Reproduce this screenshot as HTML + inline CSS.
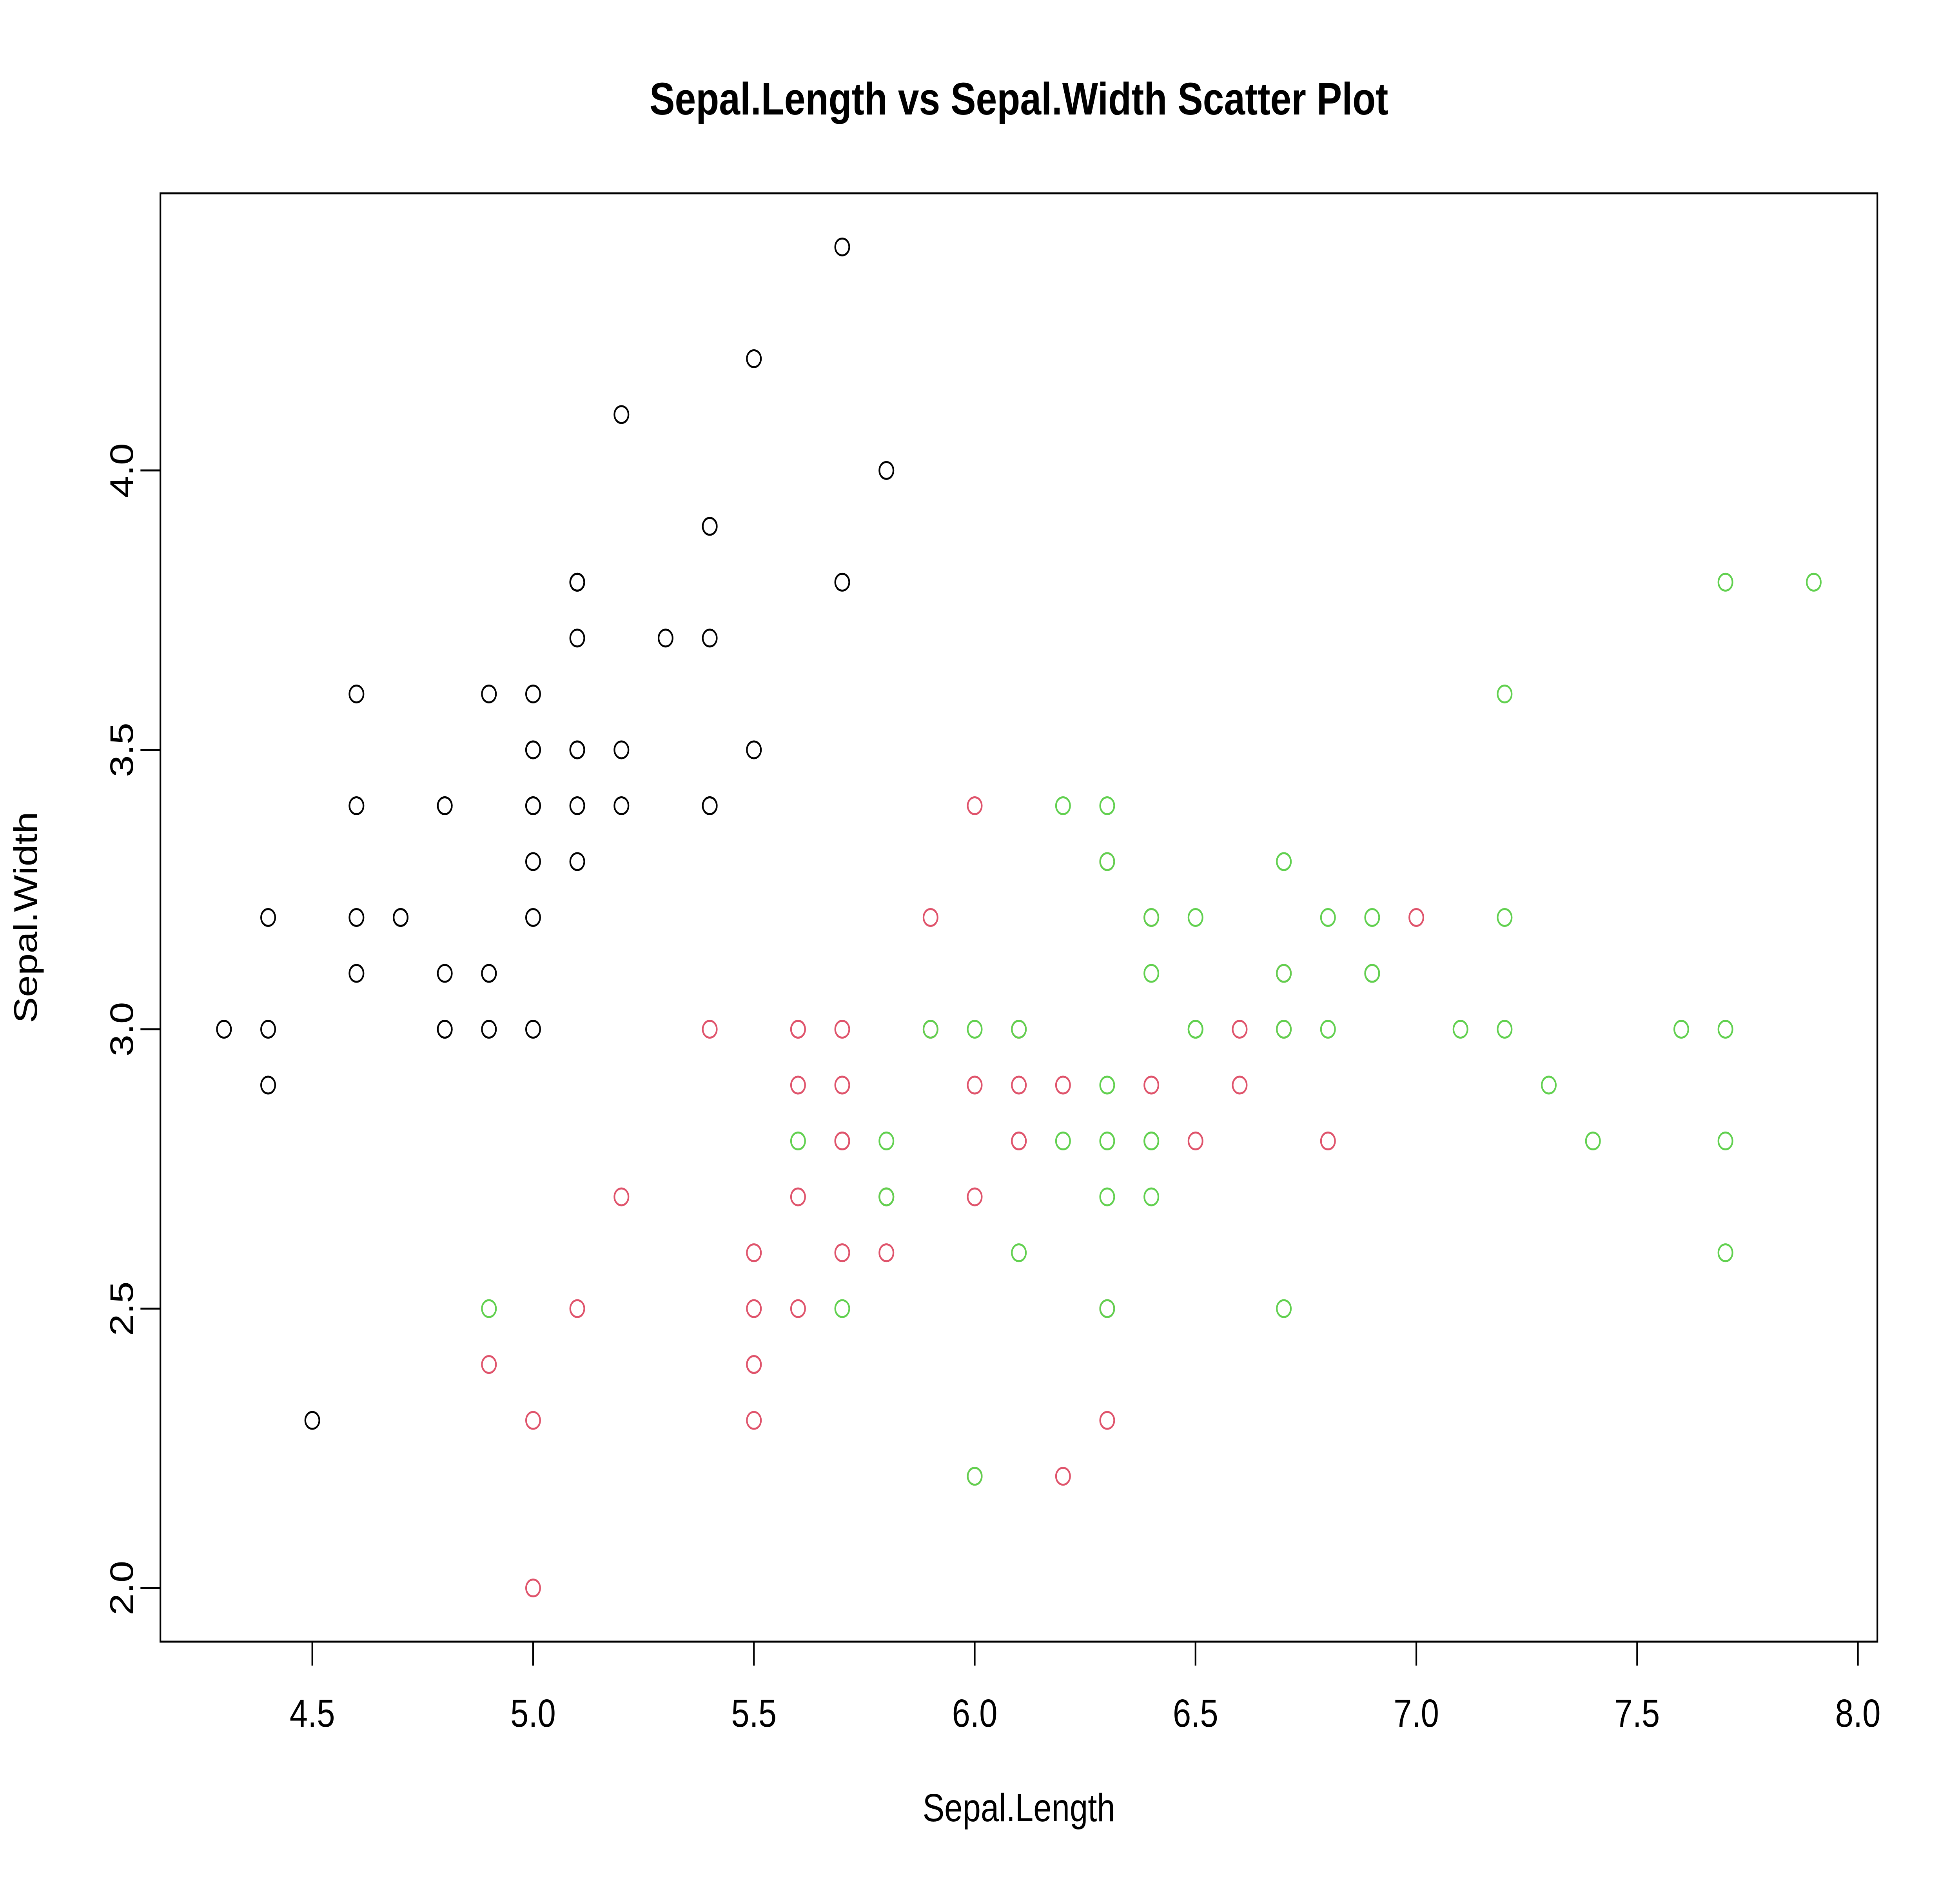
<!DOCTYPE html>
<html><head><meta charset="utf-8"><style>
html,body{margin:0;padding:0;background:#fff;overflow:hidden;}
svg{display:block;width:100vw;height:100vh;}
svg text{font-family:"Liberation Sans",Arial,sans-serif;fill:#000;}
</style></head><body>
<svg id="chart" viewBox="0 0 6000 4800" preserveAspectRatio="none" xmlns="http://www.w3.org/2000/svg">
<rect width="6000" height="4800" fill="#fff"/>
<text x="3119" y="292" font-size="116" font-weight="bold" text-anchor="middle">Sepal.Length vs Sepal.Width Scatter Plot</text>
<text x="3119" y="4645" font-size="100" text-anchor="middle">Sepal.Length</text>
<text x="0" y="0" font-size="100" text-anchor="middle" transform="translate(113,2340) rotate(-90)">Sepal.Width</text>
<g id="axes"></g>
<g id="points"></g>
</svg>
<script>
const setosaX=[5.1,4.9,4.7,4.6,5.0,5.4,4.6,5.0,4.4,4.9,5.4,4.8,4.8,4.3,5.8,5.7,5.4,5.1,5.7,5.1,5.4,5.1,4.6,5.1,4.8,5.0,5.0,5.2,5.2,4.7,4.8,5.4,5.2,5.5,4.9,5.0,5.5,4.9,4.4,5.1,5.0,4.5,4.4,5.0,5.1,4.8,5.1,4.6,5.3,5.0];
const setosaY=[3.5,3.0,3.2,3.1,3.6,3.9,3.4,3.4,2.9,3.1,3.7,3.4,3.0,3.0,4.0,4.4,3.9,3.5,3.8,3.8,3.4,3.7,3.6,3.3,3.4,3.0,3.4,3.5,3.4,3.2,3.1,3.4,4.1,4.2,3.1,3.2,3.5,3.6,3.0,3.4,3.5,2.3,3.2,3.5,3.8,3.0,3.8,3.2,3.7,3.3];
const versicolorX=[7.0,6.4,6.9,5.5,6.5,5.7,6.3,4.9,6.6,5.2,5.0,5.9,6.0,6.1,5.6,6.7,5.6,5.8,6.2,5.6,5.9,6.1,6.3,6.1,6.4,6.6,6.8,6.7,6.0,5.7,5.5,5.5,5.8,6.0,5.4,6.0,6.7,6.3,5.6,5.5,5.5,6.1,5.8,5.0,5.6,5.7,5.7,6.2,5.1,5.7];
const versicolorY=[3.2,3.2,3.1,2.3,2.8,2.8,3.3,2.4,2.9,2.7,2.0,3.0,2.2,2.9,2.9,3.1,3.0,2.7,2.2,2.5,3.2,2.8,2.5,2.8,2.9,3.0,2.8,3.0,2.9,2.6,2.4,2.4,2.7,2.7,3.0,3.4,3.1,2.3,3.0,2.5,2.6,3.0,2.6,2.3,2.7,3.0,2.9,2.9,2.5,2.8];
const virginicaX=[6.3,5.8,7.1,6.3,6.5,7.6,4.9,7.3,6.7,7.2,6.5,6.4,6.8,5.7,5.8,6.4,6.5,7.7,7.7,6.0,6.9,5.6,7.7,6.3,6.7,7.2,6.2,6.1,6.4,7.2,7.4,7.9,6.4,6.3,6.1,7.7,6.3,6.4,6.0,6.9,6.7,6.9,5.8,6.8,6.7,6.7,6.3,6.5,6.2,5.9];
const virginicaY=[3.3,2.7,3.0,2.9,3.0,3.0,2.5,2.9,2.5,3.6,3.2,2.7,3.0,2.5,2.8,3.2,3.0,3.8,2.6,2.2,3.2,2.8,2.8,2.7,3.3,3.2,2.8,3.0,2.8,3.0,2.8,3.8,2.8,2.8,2.6,3.0,3.4,3.1,3.0,3.1,3.1,3.1,2.7,3.2,3.3,3.0,2.5,3.0,3.4,3.0];
const xTicks=["4.5","5.0","5.5","6.0","6.5","7.0","7.5","8.0"];
const yTicks=["2.0","2.5","3.0","3.5","4.0"];

const NS="http://www.w3.org/2000/svg";
const L=491,R=5747,T=493,B=4187;
const allX=setosaX.concat(versicolorX,virginicaX), allY=setosaY.concat(versicolorY,virginicaY);
let xmin=Math.min(...allX),xmax=Math.max(...allX),ymin=Math.min(...allY),ymax=Math.max(...allY);
const xe=(xmax-xmin)*0.04,ye=(ymax-ymin)*0.04;
const x0=xmin-xe,x1=xmax+xe,y0=ymin-ye,y1=ymax+ye;
function sx(v){return L+(v-x0)/(x1-x0)*(R-L);}
function sy(v){return B-(v-y0)/(y1-y0)*(B-T);}
function mk(tag,attrs,parent){const e=document.createElementNS(NS,tag);for(const k in attrs)e.setAttribute(k,attrs[k]);parent.appendChild(e);return e;}
const axes=document.getElementById('axes');
const box=mk('rect',{x:L,y:T,width:R-L,height:B-T,fill:'none',stroke:'#000','stroke-width':5},axes);


xTicks.forEach(t=>{
  const x=sx(+t);
  const tk=mk('line',{x1:x,x2:x,y1:B,y2:B+61,stroke:'#000','stroke-width':5},axes);
  
  
  const tx=mk('text',{x:x,y:4404,'font-size':100,'text-anchor':'middle'},axes);
  tx.textContent=t;
  
  
});
yTicks.forEach(t=>{
  const y=sy(+t);
  const tk=mk('line',{x1:L-61,x2:L,y1:y,y2:y,stroke:'#000','stroke-width':5},axes);
  
  
  const tx=mk('text',{x:0,y:0,'font-size':100,'text-anchor':'middle',transform:`translate(407,${y}) rotate(-90)`},axes);
  tx.textContent=t;
  
  
});
const pts=document.getElementById('points');
[[setosaX,setosaY,'#000000','setosa'],[versicolorX,versicolorY,'#DF536B','versicolor'],[virginicaX,virginicaY,'#61D04F','virginica']].forEach(([xs,ys,c,n])=>{
  xs.forEach((v,i)=>{
    const p=mk('circle',{cx:sx(v),cy:sy(ys[i]),r:21.5,fill:'none',stroke:c,'stroke-width':5},pts);
    
    
  });
});
</script>
</body></html>
